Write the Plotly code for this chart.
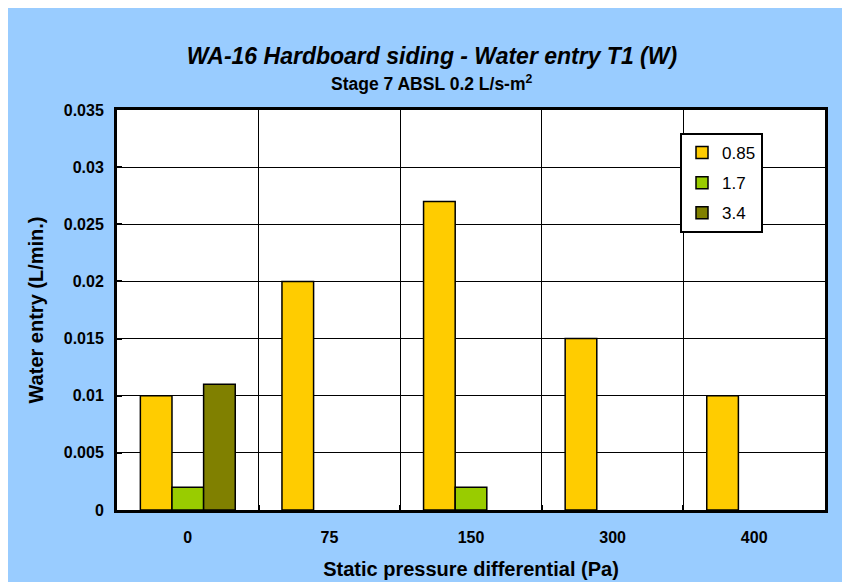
import plotly.graph_objects as go

categories = ["0", "75", "150", "300", "400"]
series_names = ["0.85", "1.7", "3.4"]
values_085 = [0.010, 0.020, 0.027, 0.015, 0.010]
values_17 = [0.002, None, 0.002, None, None]
values_34 = [0.011, None, None, None, None]
colors = ["#FFCC00", "#99CC00", "#808000"]
y_ticks = [0, 0.005, 0.01, 0.015, 0.02, 0.025, 0.03, 0.035]

FONT = "Arial, Liberation Sans, sans-serif"

fig = go.Figure()
for name, vals, col in zip(series_names, [values_085, values_17, values_34], colors):
    fig.add_trace(go.Bar(
        x=categories, y=vals, name=name, legendgroup=name,
        marker=dict(color=col, line=dict(color="black", width=1.5)),
    ))

# page has an 8px body margin; figure sized to fit window
W, H = 842, 574
L, R, T, B = 109, 25, 102, 72
pw, ph = W - L - R, H - T - B

fig.update_layout(
    width=W, height=H,
    margin=dict(l=L, r=R, t=T, b=B, pad=0, autoexpand=False),
    paper_bgcolor="#99CCFF",
    plot_bgcolor="white",
    barmode="group",
    bargap=0.33,
    bargroupgap=0,
    font=dict(family=FONT, color="black"),
    title=dict(
        text="<b><i>WA-16 Hardboard siding - Water entry T1 (W)</i></b>",
        x=424 / W, xanchor="center", y=1 - 48 / H, yanchor="middle",
        font=dict(size=23, color="black"),
    ),
    annotations=[
        dict(text="<b>Stage 7 ABSL 0.2 L/s-m<sup>2</sup></b>",
             xref="paper", yref="paper",
             x=(424 - L) / pw, y=(H - B - 75) / ph,
             xanchor="center", yanchor="middle", showarrow=False,
             font=dict(size=17.5, color="black")),
    ],
    legend=dict(
        x=(672 - L) / pw, y=(H - B - 125) / ph, xanchor="left", yanchor="top",
        bgcolor="white", bordercolor="black", borderwidth=2,
        font=dict(size=17, color="black"),
        traceorder="grouped", tracegroupgap=5, itemwidth=30,
    ),
)

fig.update_xaxes(
    type="category",
    tickson="boundaries",
    automargin=False,
    showgrid=True, gridcolor="black", gridwidth=1,
    ticks="inside", ticklen=5, tickwidth=2, tickcolor="black",
    showline=True, linecolor="black", linewidth=3, mirror=True,
    tickfont=dict(size=16),
    tickprefix="<b>", ticksuffix="</b>",
    ticklabelstandoff=11,
    title=dict(text="<b>Static pressure differential (Pa)</b>", font=dict(size=20), standoff=17),
)
fig.update_yaxes(
    range=[0, 0.035],
    automargin=False,
    tickvals=y_ticks,
    ticktext=[f"<b>{v:g}</b>" for v in y_ticks],
    showgrid=True, gridcolor="black", gridwidth=1,
    ticks="inside", ticklen=5, tickwidth=2, tickcolor="black",
    showline=True, linecolor="black", linewidth=3, mirror=True,
    zeroline=False,
    tickfont=dict(size=16),
    ticklabelstandoff=7,
    title=dict(text="<b>Water entry (L/min.)</b>", font=dict(size=20), standoff=15),
)

fig.write_html("out.html")
